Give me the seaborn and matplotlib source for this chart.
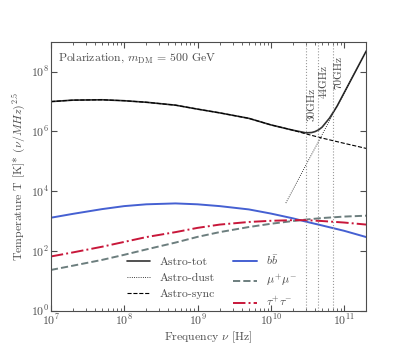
"""
Astro foregrounds vs DM signal, polarization.
"""

import matplotlib
matplotlib.use("Agg")
import matplotlib.pyplot as plt
import matplotlib.ticker as mticker
import seaborn as sns

# common frequency grid (Hz)
freq = [1e7, 2e7, 5e7, 1e8, 2e8, 5e8, 1e9, 2e9, 5e9, 1e10, 2e10, 3e10, 5e10, 1e11, 2e11]

# T * (nu/MHz)^2.5
astro_sync = [1.0e7, 1.12e7, 1.15e7, 1.07e7, 9.5e6, 7.6e6, 5.6e6, 4.2e6, 2.75e6, 1.66e6,
              1.1e6, 8.3e5, 6.0e5, 4.0e5, 2.7e5]
dm_bb = [1290, 1740, 2510, 3160, 3630, 3890, 3630, 3160, 2450, 1780, 1230, 955, 710, 470, 290]
dm_mumu = [23, 32, 50, 74, 112, 190, 295, 425, 630, 810, 1000, 1120, 1260, 1410, 1510]
dm_tautau = [65, 89, 138, 200, 290, 425, 590, 760, 930, 1020, 1070, 1070, 1000, 890, 760]

dust_freq = [1.6e10, 2.5e10, 4e10, 6.3e10, 1e11, 1.4e11, 2e11]
astro_dust = [4.0e3, 3.2e4, 2.8e5, 2.3e6, 1.95e7, 9.5e7, 5.0e8]

tot_freq = [1e7, 2e7, 5e7, 1e8, 2e8, 5e8, 1e9, 2e9, 5e9, 1e10, 2e10, 3e10, 3.6e10, 4e10,
            4.5e10, 5e10, 6.3e10, 8e10, 1e11, 1.4e11, 2e11]
astro_tot = [1.0e7, 1.12e7, 1.15e7, 1.07e7, 9.5e6, 7.6e6, 5.6e6, 4.2e6, 2.75e6, 1.66e6,
             1.1e6, 9.0e5, 9.2e5, 9.9e5, 1.14e6, 1.4e6, 2.8e6, 7.1e6, 2.0e7, 9.5e7, 5.0e8]

planck_freq = [30e9, 44e9, 70e9]
planck_labels = ["30GHz", "44GHz", "70GHz"]
label_height = [2.3e6, 1.35e7, 2.7e7]

sns.set_style("ticks")
plt.rcParams["font.family"] = ["cmr10", "DejaVu Serif"]
plt.rcParams["mathtext.fontset"] = "cm"
plt.rcParams["axes.formatter.use_mathtext"] = True
plt.rcParams["text.color"] = "0.3"
plt.rcParams["axes.labelcolor"] = "0.3"
plt.rcParams["xtick.color"] = "0.3"
plt.rcParams["ytick.color"] = "0.3"
plt.rcParams["axes.edgecolor"] = "0.3"

fig, ax = plt.subplots(figsize=(4.07, 3.49), dpi=100)
fig.subplots_adjust(left=0.125, right=0.9, bottom=0.11, top=0.88)

sns.lineplot(x=tot_freq, y=astro_tot, ax=ax, color="k", alpha=0.8, lw=1.2, label="Astro-tot")
sns.lineplot(x=dust_freq, y=astro_dust, ax=ax, color="k", ls=":", lw=0.6, label="Astro-dust")
sns.lineplot(x=freq, y=astro_sync, ax=ax, color="k", ls="--", lw=0.8, label="Astro-sync")
sns.lineplot(x=freq, y=dm_bb, ax=ax, color="#4560d2", lw=1.4, label=r"$b\bar{b}$")
sns.lineplot(x=freq, y=dm_mumu, ax=ax, color="#6c7e7e", ls="--", lw=1.4, label=r"$\mu^{+}\mu^{-}$")
sns.lineplot(x=freq, y=dm_tautau, ax=ax, color="#c8173a", ls="-.", lw=1.4, label=r"$\tau^{+}\tau^{-}$")

# Planck LFI channels
for f, lab, h in zip(planck_freq, planck_labels, label_height):
    ax.axvline(f, color="0.6", ls=":", lw=0.8)
    ax.text(f * 1.04, h, lab, rotation=90, ha="left", va="bottom", fontsize=8)

ax.set_xscale("log")
ax.set_yscale("log")
ax.set_xlim(1e7, 2e11)
ax.set_ylim(1e0, 1e9)
ax.yaxis.set_major_locator(mticker.FixedLocator([1e0, 1e2, 1e4, 1e6, 1e8]))
ax.yaxis.set_minor_locator(mticker.NullLocator())
ax.set_xlabel(r"Frequency $\nu$ [Hz]", fontsize=8.5, labelpad=1)
ax.set_ylabel(r"Temperature T [K]* $(\nu/MHz)^{2.5}$", fontsize=8.5, labelpad=2)
ax.tick_params(which="both", direction="in", top=True, right=True, labelsize=8.5, pad=1.5)
ax.tick_params(which="major", length=4)
ax.tick_params(which="minor", length=2)

ax.text(0.022, 0.94, r"Polarization, $m_{\rm DM}$ = 500 GeV", transform=ax.transAxes,
        va="center", ha="left", fontsize=8.5)

ax.legend(ncol=2, frameon=False, loc="lower left", bbox_to_anchor=(0.226, -0.012),
          borderaxespad=0, fontsize=8.5, handlelength=2.0, columnspacing=1.5,
          labelspacing=0.48)

fig.savefig("out.png", dpi=100)
